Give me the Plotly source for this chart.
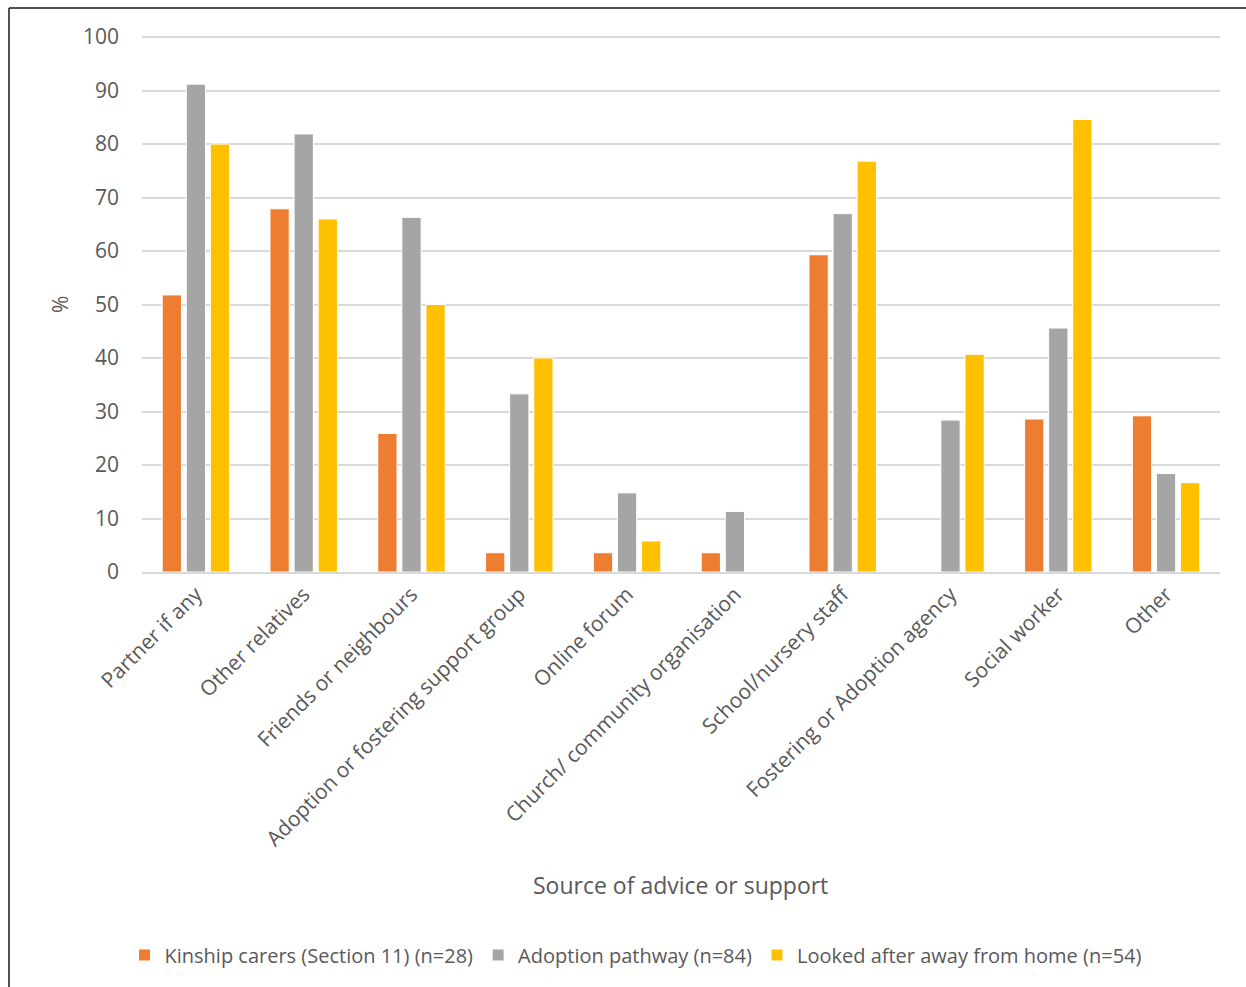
import plotly.graph_objects as go

categories = ["Partner if any", "Other relatives", "Friends or neighbours",
              "Adoption or fostering support group", "Online forum",
              "Church/ community organisation", "School/nursery staff",
              "Fostering or Adoption agency", "Social worker", "Other"]

kinship = [51.8, 67.9, 25.9, 3.6, 3.6, 3.6, 59.3, 0, 28.6, 29.2]
adoption = [91.2, 81.9, 66.3, 33.3, 14.8, 11.3, 67.0, 28.4, 45.6, 18.4]
looked_after = [80.0, 66.0, 50.0, 40.0, 5.8, 0, 76.8, 40.7, 84.6, 16.7]

series_names = ["Kinship carers (Section 11) (n=28)",
                "Adoption pathway (n=84)",
                "Looked after away from home (n=54)"]
colors = ["#ED7D31", "#A5A5A5", "#FFC000"]

y_ticks = [0, 10, 20, 30, 40, 50, 60, 70, 80, 90, 100]

FONT = "Open Sans"
TXT = "#595959"

fig = go.Figure()
for name, vals, col in zip(series_names, [kinship, adoption, looked_after], colors):
    fig.add_trace(go.Bar(x=categories, y=vals, name=name,
                         marker=dict(color=col, line=dict(color="white", width=1))))

L, R, T, B = 142, 26, 36, 415
W, H = 1246, 987
pw = W - L - R
ph = H - T - B

fig.update_layout(
    width=W, height=H,
    margin=dict(l=L, r=R, t=T, b=B),
    paper_bgcolor="white", plot_bgcolor="white",
    barmode="group", bargap=0.33, bargroupgap=0.2,
    font=dict(family=FONT, color=TXT, size=20),
    showlegend=True,
    legend=dict(orientation="h", x=(636 - L) / pw, y=-(955 - (T + ph)) / ph,
                xanchor="center", yanchor="middle",
                font=dict(family=FONT, size=20, color=TXT),
                itemwidth=30, traceorder="normal"),
    xaxis=dict(tickangle=-45, showgrid=False, showline=True, linecolor="#d9d9d9",
               linewidth=1.5, ticks="", tickfont=dict(family=FONT, size=21, color=TXT)),
    yaxis=dict(range=[0, 100.2], tickvals=y_ticks, showgrid=True, gridcolor="#d9d9d9",
               gridwidth=1.5, zeroline=False, showline=False, ticks="",
               ticklabelstandoff=22,
               tickfont=dict(family=FONT, size=21, color=TXT)),
    annotations=[
        dict(text="Source of advice or support", xref="paper", yref="paper",
             x=(680 - L) / pw, y=-(885 - (T + ph)) / ph, xanchor="center", yanchor="middle",
             showarrow=False, font=dict(family=FONT, size=23, color=TXT)),
        dict(text="%", xref="paper", yref="paper", textangle=-90,
             x=(60 - L) / pw, y=(T + ph - 305) / ph, xanchor="center", yanchor="middle",
             showarrow=False, font=dict(family=FONT, size=21, color=TXT)),
    ],
    shapes=[
        dict(type="line", xref="paper", yref="paper",
             x0=(9 - L) / pw, x1=(1246 - L) / pw, y0=(T + ph - 8) / ph, y1=(T + ph - 8) / ph,
             line=dict(color="#1a1a1a", width=1.5)),
        dict(type="line", xref="paper", yref="paper",
             x0=(9 - L) / pw, x1=(9 - L) / pw, y0=(T + ph - 8) / ph, y1=(T + ph - 987) / ph,
             line=dict(color="#1a1a1a", width=1.5)),
    ],
)

fig.write_html("out.html", config={"displayModeBar": False},
               post_script="document.body.style.margin='0px';")
